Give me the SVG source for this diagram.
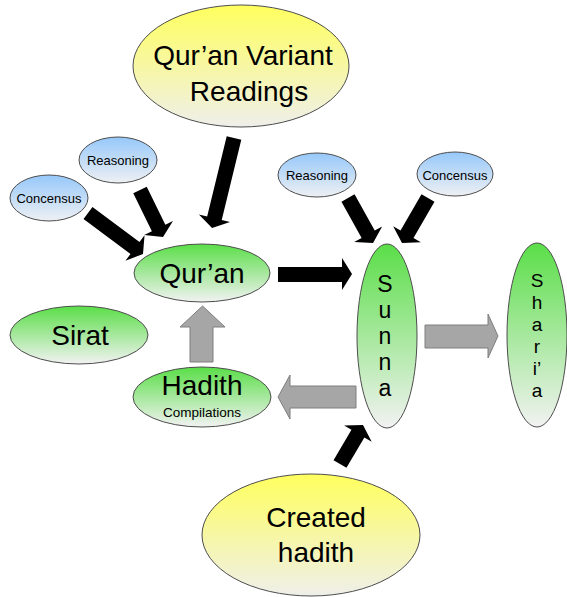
<svg xmlns="http://www.w3.org/2000/svg" width="567" height="597" viewBox="0 0 567 597">
<defs>
<linearGradient id="gGreen" x1="0" y1="0" x2="0" y2="1">
<stop offset="0" stop-color="#5ade48"/>
<stop offset="1" stop-color="#f2f2f2"/>
</linearGradient>
<linearGradient id="gYellow" x1="0" y1="0" x2="0" y2="1">
<stop offset="0" stop-color="#ffff5e"/>
<stop offset="1" stop-color="#efefeb"/>
</linearGradient>
<linearGradient id="gBlue" x1="0" y1="0" x2="0" y2="1">
<stop offset="0" stop-color="#96c8fa"/>
<stop offset="1" stop-color="#eef0f3"/>
</linearGradient>
</defs>
<style>
.green{fill:url(#gGreen);stroke:#4d4d4d;stroke-width:1}
.yellow{fill:url(#gYellow);stroke:#4d4d4d;stroke-width:1}
.blue{fill:url(#gBlue);stroke:#4d4d4d;stroke-width:1}
text{font-family:"Liberation Sans",Arial,sans-serif;fill:#000;text-anchor:middle}
.big{font-size:28px}
.small{font-size:13px}
.vert{font-size:23px}
.vert2{font-size:19px}
.black{fill:#000}
.gray{fill:#a6a6a6;stroke:#7f7f7f;stroke-width:1}
</style>

<g id="connectors">
<polygon class="black" points="0,-7.5 58.6,-7.5 58.6,-16 68.6,0 58.6,16 58.6,7.5 0,7.5" transform="translate(88,213) rotate(36.7)"/>
<polygon class="black" points="0,-7.5 42.3,-7.5 42.3,-16 52.3,0 42.3,16 42.3,7.5 0,7.5" transform="translate(140,190) rotate(63.9)"/>
<polygon class="black" points="0,-7.5 82.6,-7.5 82.6,-16 92.6,0 82.6,16 82.6,7.5 0,7.5" transform="translate(234,138) rotate(103.7)"/>
<polygon class="black" points="0,-7.5 41.5,-7.5 41.5,-16 51.5,0 41.5,16 41.5,7.5 0,7.5" transform="translate(348,198) rotate(60.9)"/>
<polygon class="black" points="0,-7.5 42,-7.5 42,-16 52,0 42,16 42,7.5 0,7.5" transform="translate(428,198) rotate(120)"/>
<polygon class="black" points="0,-7.5 35.3,-7.5 35.3,-16 45.3,0 35.3,16 35.3,7.5 0,7.5" transform="translate(340,464) rotate(-59.5)"/>
<polygon class="black" points="278,267 342,267 342,258 352,274 342,290 342,282 278,282"/>
<polygon class="gray" points="190,362 190,327 180,327 202.5,306 225,327 213,327 213,362"/>
<polygon class="gray" points="425,325 488,325 488,314 498,336 488,358 488,348 425,348"/>
<polygon class="gray" points="356,386 290,386 290,375 278,397 290,419 290,408 356,408"/>
</g>

<g id="quran-variant">
<ellipse class="yellow" cx="241" cy="66" rx="108" ry="61"/>
<text class="big" x="243" y="65">Qur’an Variant</text>
<text class="big" x="249" y="101">Readings</text>
</g>
<g id="reasoning-left">
<ellipse class="blue" cx="118" cy="160" rx="39" ry="23"/>
<text class="small" x="118" y="165">Reasoning</text>
</g>
<g id="concensus-left">
<ellipse class="blue" cx="49" cy="198" rx="39" ry="23"/>
<text class="small" x="49" y="203">Concensus</text>
</g>
<g id="reasoning-right">
<ellipse class="blue" cx="317" cy="175" rx="39" ry="22"/>
<text class="small" x="317" y="180">Reasoning</text>
</g>
<g id="concensus-right">
<ellipse class="blue" cx="455" cy="174" rx="38" ry="22"/>
<text class="small" x="455" y="180">Concensus</text>
</g>
<g id="quran">
<ellipse class="green" cx="202" cy="273" rx="68" ry="29"/>
<text class="big" x="202" y="283">Qur’an</text>
</g>
<g id="sirat">
<ellipse class="green" cx="79" cy="335" rx="69" ry="29"/>
<text class="big" x="80" y="345">Sirat</text>
</g>
<g id="hadith">
<ellipse class="green" cx="202" cy="397" rx="69" ry="30"/>
<text class="big" x="202" y="395">Hadith</text>
<text x="202" y="417" style="font-size:13.5px">Compilations</text>
</g>
<g id="sunna">
<ellipse class="green" cx="387" cy="336" rx="30" ry="92"/>
<text class="vert" x="385" y="292">S</text>
<text class="vert" x="385" y="318">u</text>
<text class="vert" x="385" y="344">n</text>
<text class="vert" x="385" y="370">n</text>
<text class="vert" x="385" y="396">a</text>
</g>
<g id="sharia">
<ellipse class="green" cx="537" cy="335" rx="30" ry="92"/>
<text class="vert2" x="537" y="287">S</text>
<text class="vert2" x="537" y="309">h</text>
<text class="vert2" x="537" y="331">a</text>
<text class="vert2" x="537" y="353">r</text>
<text class="vert2" x="537" y="375">i’</text>
<text class="vert2" x="537" y="397">a</text>
</g>
<g id="created-hadith">
<ellipse class="yellow" cx="311" cy="535" rx="109" ry="61"/>
<text class="big" x="316" y="527">Created</text>
<text class="big" x="316" y="562">hadith</text>
</g>
</svg>
